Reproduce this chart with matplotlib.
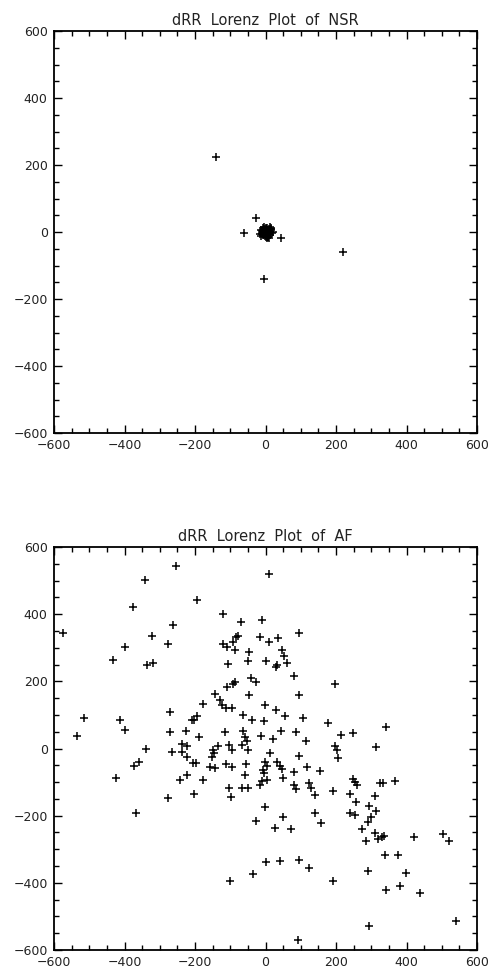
import matplotlib
matplotlib.use("Agg")
import matplotlib.pyplot as plt
from matplotlib.ticker import MultipleLocator

# ---------------- data ----------------
titles = ["dRR  Lorenz  Plot  of  NSR", "dRR  Lorenz  Plot  of  AF"]
tick_values = [-600, -400, -200, 0, 200, 400, 600]

# NSR: outliers + tight cluster around the origin
nsr_x = [-141, -27, -60, 43, 221, -4,
         0, 3, -4, 6, -7, 8, 2, -2, 5, -5, 10, -9, 1, 4, -3, 7, -6, 12, -1,
         9, 3, -8, 6, 0, -4, 11, 2, -10, 5, 8, -2, 14, 0, -6, 4, 13, -11, 7,
         16, -13, 18, -12, 15, 10, -8, 17, 3, -15, 20, 6, -3, 12]
nsr_y = [225, 41, -2, -17, -61, -141,
         0, 4, -3, -5, 2, 6, -8, 7, 1, -6, -2, 3, 9, -10, 5, -4, -9, 1, -12,
         8, 11, 0, 3, -7, 10, -6, -14, -3, -11, 2, 4, -1, 13, 7, -9, -8, -6, -15,
         5, 6, -4, -12, 12, -17, 11, 9, -19, -5, 1, -16, 15, 14]

af_x = [-253, -343, -376, -261, -574, -321, -277, -399, -433, -335, -319,
        -272, -516, -414, -398, -535, -270, -226, -208, -237, -222, -340,
        -373, -360, -425, -366, -266, -238, -224, -207, -196, -243, -222,
        -278, -204, -176,
        10, -193, -120, -70, -9, 95, -77, -84, -16, 11, 36, -120, -110, -91,
        -87, -46, 46, 53, -105, -51, 1, 30, 34, 62, 82, -87, -91, -41, -27,
        -108, 196, -143, -46, 96, -129, -122, -113, -96, -178, -1, 30, -195,
        -203, -63, -39, -4, 55, 107, 178, -188, -115, -63, -58, -53, -14, 20,
        44, 86, 114, 215, 247, 343, 314, 197, 202,
        -150, -145, -153, -136, -103, -96, -66, -49, 14, 94, 206, -157, -143,
        -113, -96, -55, -1, 3, -8, -4, -11, 3, -16, 34, 41, 46, 50, 82, 119,
        155, -59, -103, -99, -68, -49, 82, 86, 122, 130, 141, 192, -1, -27,
        50, 27, 71, 141, 158, 1, 40, 94, 123, -35, -101, 192, 91,
        249, 255, 260, 325, 334, 366, 241, 312, 258, 294, 313, 239, 253, 300,
        291, 275, 310, 284, 320, 331, 335, 421, 504, 520, 338, 375, 290, 399,
        343, 382, 439, 293, 540]
af_y = [543, 502, 422, 368, 343, 335, 311, 301, 263, 249, 254,
        110, 90, 85, 55, 38, 48, 53, 85, 14, 7, 0,
        -51, -39, -87, -193, -10, -11, -25, -43, -43, -95, -80,
        -148, -135, -94,
        520, 442, 400, 378, 383, 345, 335, 331, 331, 316, 330, 310, 301, 318,
        293, 288, 293, 275, 252, 262, 262, 244, 248, 254, 217, 197, 192, 209, 199,
        182, 192, 162, 158, 158, 144, 130, 120, 122, 132, 129, 115, 97,
        85, 100, 85, 83, 97, 92, 77, 35, 48, 52, 35, 22, 37, 28,
        52, 48, 23, 40, 45, 65, 5, 7, -3,
        -5, -14, -25, 7, 10, -4, 10, -4, -12, -23, -29, -54, -59,
        -47, -54, -46, -40, -52, -63, -74, -96, -95, -110, -41, -52, -62, -89, -69, -54,
        -68, -80, -119, -143, -117, -117, -108, -121, -104, -119, -138, -126, -174, -216,
        -203, -236, -239, -192, -223, -337, -336, -332, -357, -375, -396, -396, -569,
        -90, -100, -108, -103, -103, -97, -136, -140, -158, -171, -187, -192, -198, -203,
        -219, -239, -253, -275, -270, -265, -260, -263, -254, -276, -318, -317, -365, -370,
        -422, -410, -430, -530, -515]

# ---------------- figure ----------------
W, H = 491, 969
fig = plt.figure(figsize=(W / 100, H / 100), dpi=100)
plt.rcParams['font.family'] = ['DejaVu Sans']

left = 54 / W
width = 423 / W
ax_top = fig.add_axes([left, (H - 433) / H, width, 402 / H])
ax_bot = fig.add_axes([left, (H - 950) / H, width, 403 / H])

for ax, title, xs, ys in [(ax_top, titles[0], nsr_x, nsr_y),
                          (ax_bot, titles[1], af_x, af_y)]:
    ax.plot(xs, ys, linestyle='none', marker='+', markersize=6.4,
            markeredgewidth=1.1, color='black')
    ax.set_xlim(-600, 600)
    ax.set_ylim(-600, 600)
    ax.set_xticks(tick_values)
    ax.set_yticks(tick_values)
    ax.xaxis.set_minor_locator(MultipleLocator(50))
    ax.yaxis.set_minor_locator(MultipleLocator(50))
    ax.tick_params(which='both', direction='in', top=True, right=True,
                   labelsize=9, color='black', labelcolor='#222222')
    ax.tick_params(which='major', length=6, width=1.0, pad=4.5)
    ax.tick_params(which='minor', length=3.5, width=1.0)
    for sp in ax.spines.values():
        sp.set_linewidth(1.3)
    ax.set_title(title, fontsize=10.5, pad=4, color='#222222')

fig.savefig("out.png", dpi=100)
